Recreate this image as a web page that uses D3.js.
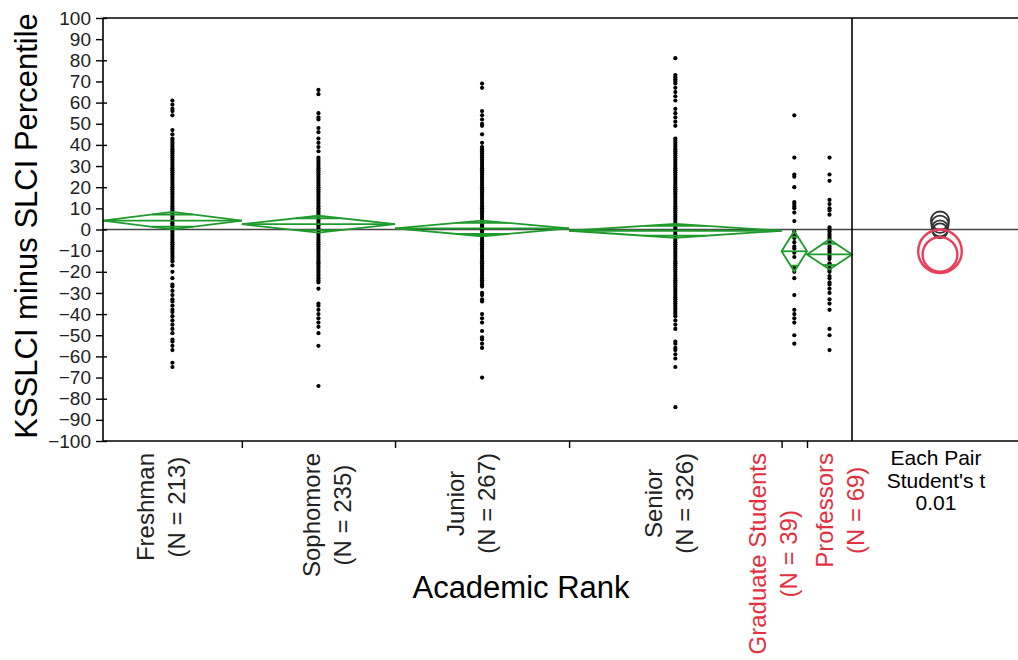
<!DOCTYPE html>
<html lang = "en">
  <head>
    <meta charset = 'utf-8'>
    <title>KSSLCI minus SLCI Percentile by Academic Rank</title>
    <script src="https://d3js.org/d3.v7.min.js"></script>
    <style>

    body {
      margin: 0;
      background: #fff;
    }

    #chart1 text {
      font-family: Arial, "Liberation Sans", sans-serif;
    }

    </style>
  </head>
  <body>
    <div id="chart1"></div>
    <script type="text/javascript">
      // groups, in axis order
      var ranks = ["Freshman", "Sophomore", "Junior", "Senior", "Graduate Students", "Professors"];
      var counts = [213, 235, 267, 326, 39, 69];
      var flagged = [false, false, false, false, true, true];

      // means diamonds (mean, 95% half width) and comparison circle radii
      var means = [4.2, 2.5, 0.5, -0.6, -10.3, -11.8];
      var ciHalf = [4.1, 4.0, 3.7, 3.3, 9.6, 7.1];
      var circleRadius = [4.3, 4.1, 3.8, 3.5, 10.3, 8.2];

      var yTicks = [100, 90, 80, 70, 60, 50, 40, 30, 20, 10, 0, -10, -20, -30, -40, -50, -60, -70, -80, -90, -100];

      // points (dense parts overlap into a solid column)
      var freshman = [61, 59, 57, 56, 54, 47, 45, 43,
        42, 41, 40, 39, 38, 37, 36, 35, 34, 33, 32, 31, 30, 29, 28, 27, 26, 25, 24, 23, 22, 21, 20,
        19, 18, 17, 16, 15, 14, 13, 12, 11, 10, 9, 8, 7, 6, 5, 4, 3, 2, 1, 0, -1, -2, -3, -4, -5,
        -6, -7, -8, -9, -10, -11, -12, -13, -14, -15,
        -17, -20, -23, -26, -27, -29, -31, -33, -34, -36, -38, -39, -41, -43, -45, -47, -49, -52,
        -53, -55, -57, -63, -65];
      var sophomore = [66, 64, 55, 53, 52, 48, 46, 43, 41, 39, 37,
        34, 33, 32, 31, 30, 29, 28, 27, 26, 25, 24, 23, 22, 21, 20, 19, 18, 17, 16, 15, 14, 13, 12,
        11, 10, 9, 8, 7, 6, 5, 4, 3, 2, 1, 0, -1, -2, -3, -4, -5, -6, -7, -8, -9, -10, -11, -12,
        -13, -14, -15, -16, -17, -18, -19, -20, -21, -22, -23, -24, -25,
        -28, -35, -36, -38, -40, -42, -44, -46, -49, -55, -74];
      var junior = [69, 67, 56, 54, 52, 50, 49, 45, 41,
        39, 38, 37, 36, 35, 34, 33, 32, 31, 30, 29, 28, 27, 26, 25, 24, 23, 22, 21, 20, 19, 18, 17,
        16, 15, 14, 13, 12, 11, 10, 9, 8, 7, 6, 5, 4, 3, 2, 1, 0, -1, -2, -3, -4, -5, -6, -7, -8,
        -9, -10, -11, -12, -13, -14, -15, -16, -17, -18, -19, -20, -21, -22, -23, -24, -25, -26, -27,
        -30, -31, -33, -34, -40, -42, -44, -48, -51, -52, -54, -56, -70];
      var senior = [81, 73, 72, 71, 70, 69, 67, 65, 63, 61, 57, 55, 53, 51, 49, 43,
        42, 41, 40, 39, 38, 37, 36, 35, 34, 33, 32, 31, 30, 29, 28, 27, 26, 25, 24, 23, 22, 21, 20,
        19, 18, 17, 16, 15, 14, 13, 12, 11, 10, 9, 8, 7, 6, 5, 4, 3, 2, 1, 0, -1, -2, -3, -4, -5,
        -6, -7, -8, -9, -10, -11, -12, -13, -14, -15, -16, -17, -18, -19, -20, -21, -22, -23, -24,
        -25, -26, -27, -28, -29, -30, -31, -32, -33, -34, -35, -36, -37, -38, -39, -40, -41,
        -43, -45, -47, -53, -54, -56, -57, -59, -61, -65, -84];
      var gradStudents = [54, 34, 26, 25, 20, 13, 12, 11, 10, 8, 4, -1, -3, -4, -6, -8, -9, -11, -13,
        -18, -20, -23, -31, -38, -40, -42, -44, -50, -54];
      var professors = [34, 26, 23, 14, 12, 10, 9, 7, 1, 0, -1, -2, -3, -4, -5, -6, -8, -9, -10, -11,
        -12, -13, -14, -16, -17, -18, -19, -20, -22, -23, -25, -26, -28, -30, -33, -35, -38, -47,
        -50, -57];
      var points = [freshman, sophomore, junior, senior, gradStudents, professors];

      // small layout nudges for the rotated category labels (JMP places them unevenly)
      var labelShift = [-11, 9, -11.5, -6, -21.5, 10.5];

      var W = 1018, H = 660;
      var plotLeft = 103, plotRight = 852, plotTop = 18, plotBottom = 441, panelRight = 1018;
      var green = "#1f9a2c", red = "#e3303f";

      var svg = d3.select("#chart1").append("svg")
        .attr("width", W).attr("height", H);

      var edges = [0].concat(Array.from(d3.cumsum(counts)));
      var x = d3.scaleLinear().domain([0, d3.sum(counts)]).range([plotLeft, plotRight]);
      var y = d3.scaleLinear().domain([-100, 100]).range([plotBottom, plotTop]);

      var groups = ranks.map(function (r, i) {
        var x0 = x(edges[i]), x1 = x(edges[i + 1]);
        return {name: r, n: counts[i], x0: x0, x1: x1, cx: (x0 + x1) / 2, i: i};
      });

      // zero reference line
      svg.append("line")
        .attr("x1", plotLeft).attr("x2", panelRight)
        .attr("y1", y(0)).attr("y2", y(0))
        .attr("stroke", "#444").attr("stroke-width", 1.5);

      // points
      groups.forEach(function (g) {
        svg.append("g").selectAll("circle")
          .data(points[g.i])
          .enter().append("circle")
          .attr("cx", g.cx)
          .attr("cy", function (d) { return y(d); })
          .attr("r", 2.1)
          .attr("fill", "#000");
      });

      // means diamonds with overlap marks
      groups.forEach(function (g) {
        var m = means[g.i], h = ciHalf[g.i];
        var ym = y(m), yt = y(m + h), yb = y(m - h);
        var dg = svg.append("g")
          .attr("fill", "none")
          .attr("stroke", green)
          .attr("stroke-width", 1.8);
        dg.append("path")
          .attr("d", "M" + g.x0 + "," + ym + "L" + g.cx + "," + yt + "L" + g.x1 + "," + ym +
                     "L" + g.cx + "," + yb + "Z");
        dg.append("line")
          .attr("x1", g.x0).attr("x2", g.x1)
          .attr("y1", ym).attr("y2", ym);
        var half = (g.x1 - g.x0) / 2 * (1 - Math.SQRT1_2);
        [m + h * Math.SQRT1_2, m - h * Math.SQRT1_2].forEach(function (v) {
          dg.append("line")
            .attr("x1", g.cx - half).attr("x2", g.cx + half)
            .attr("y1", y(v)).attr("y2", y(v));
        });
      });

      // comparison circles
      var circleX = 940;
      svg.append("g").selectAll("circle")
        .data(groups)
        .enter().append("circle")
        .attr("cx", circleX)
        .attr("cy", function (g) { return y(means[g.i]); })
        .attr("r", function (g) { return y(0) - y(circleRadius[g.i]); })
        .attr("fill", "none")
        .attr("stroke", function (g) { return flagged[g.i] ? "#e8405a" : "#333"; })
        .attr("stroke-width", function (g) { return flagged[g.i] ? 2.4 : 1.8; });

      // frame
      var frame = svg.append("g").attr("stroke", "#000").attr("stroke-width", 1.6);
      frame.append("line").attr("x1", plotLeft).attr("x2", panelRight).attr("y1", plotTop).attr("y2", plotTop);
      frame.append("line").attr("x1", plotLeft).attr("x2", panelRight).attr("y1", plotBottom).attr("y2", plotBottom);
      frame.append("line").attr("x1", plotLeft).attr("x2", plotLeft).attr("y1", plotTop).attr("y2", plotBottom);
      frame.append("line").attr("x1", plotRight).attr("x2", plotRight).attr("y1", plotTop).attr("y2", plotBottom);

      // y axis
      var yAxis = svg.append("g")
        .attr("transform", "translate(" + plotLeft + ",0)")
        .call(d3.axisLeft(y).tickValues(yTicks).tickSize(7).tickPadding(5));
      yAxis.select(".domain").remove();
      yAxis.selectAll(".tick line").attr("stroke", "#000").attr("stroke-width", 1.4);
      yAxis.selectAll(".tick text")
        .attr("fill", "#222")
        .style("font-size", "19px");
      yAxis.selectAll(".tick")
        .filter(function (d) { return d % 20 === 0; })
        .append("line")
        .attr("x1", 0).attr("x2", 4)
        .attr("stroke", "#000").attr("stroke-width", 1.4);

      svg.append("text")
        .attr("transform", "translate(37,226) rotate(-90)")
        .attr("text-anchor", "middle")
        .style("font-size", "31px")
        .attr("fill", "#000")
        .text("KSSLCI minus SLCI Percentile");

      // x axis ticks at group boundaries
      var xAxis = svg.append("g")
        .attr("transform", "translate(0," + plotBottom + ")")
        .call(d3.axisBottom(x).tickValues(edges.slice(1, -1)).tickSize(7).tickFormat(""));
      xAxis.select(".domain").remove();
      xAxis.selectAll(".tick line").attr("stroke", "#000").attr("stroke-width", 1.4);

      // rotated category labels
      groups.forEach(function (g) {
        var lines = [g.name, "(N = " + g.n + ")"];
        var bx = g.cx + labelShift[g.i];
        var col = flagged[g.i] ? red : "#222";
        var texts = lines.map(function (t) {
          return svg.append("text")
            .attr("text-anchor", "middle")
            .attr("dominant-baseline", "central")
            .style("font-size", "24px")
            .attr("fill", col)
            .text(t);
        });
        var longest = d3.max(texts, function (t) { return t.node().getComputedTextLength(); });
        var cy = 453 + longest / 2;
        texts.forEach(function (t, k) {
          var tx = bx + (k === 0 ? -15.5 : 15.5);
          t.attr("transform", "translate(" + tx + "," + cy + ") rotate(-90)");
        });
      });

      svg.append("text")
        .attr("x", 521).attr("y", 598)
        .attr("text-anchor", "middle")
        .style("font-size", "31px")
        .attr("fill", "#000")
        .text("Academic Rank");

      // comparison circle panel caption
      ["Each Pair", "Student's t", "0.01"].forEach(function (t, k) {
        svg.append("text")
          .attr("x", 936).attr("y", 465 + k * 22.5)
          .attr("text-anchor", "middle")
          .style("font-size", "21px")
          .attr("fill", "#000")
          .text(t);
      });
    </script>
  </body>
</html>
